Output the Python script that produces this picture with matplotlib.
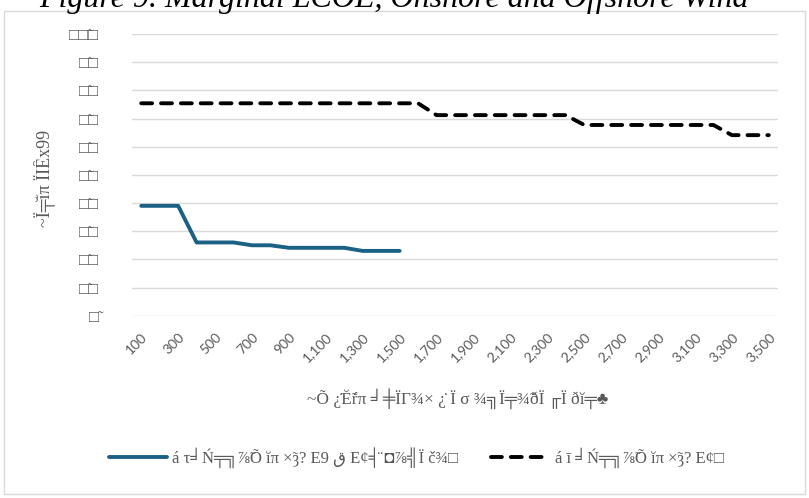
import matplotlib
matplotlib.use("Agg")
import matplotlib.pyplot as plt
from matplotlib.patches import Rectangle

# capacity steps (MW) on the category axis
capacity = list(range(100, 3600, 100))
tick_labels = [f"{c:,}" for c in capacity]

# marginal LCOE
onshore = [39, 39, 39, 26, 26, 26, 25, 25, 24.1, 24.1, 24.1, 24.1, 23, 23, 23]
offshore = [75.4] * 16 + [71.2] * 8 + [67.7] * 8 + [64.1] * 3

y_ticks = list(range(0, 101, 10))
# garbled labels as they show in the reference
y_tick_labels = ["\u25a1\u0303"] + ["\u25a1\u0303\u25a1"] * 9 + ["\u25a1\u25a1\u0303\u25a1"]

title = "Figure 9. Marginal LCOE, Onshore and Offshore Wind"
y_title = "~Ï╤̆ĭπ ÏIȆx99"
x_title = "~Õ ¿̇Ĕ̃ŕπ ╛╪ÏΓ¾× ¿̇ Ï σ ¾╗Ï╤¾̃ðÏ ╓Ï ðĭ╤♣"
leg_on = "á τ╛Ń╤╗⅞̃Õ ĭπ ×̃ȝ? E9 ق Eȼ╡̈ ◘⅞╣Ï č¾□"
leg_off = "á ī ╛Ń╤╗⅞̃Õ ĭπ ×̃ȝ? Eȼ□"

W, H = 809, 498
serif = ["Liberation Serif", "DejaVu Serif", "DejaVu Sans"]
grey = "#595959"

fig = plt.figure(figsize=(W / 100, H / 100), dpi=100)
ax = fig.add_axes([132 / W, 1 - 315.7 / H, (778 - 132) / W, (315.7 - 34) / H])

# outer chart border
fig.patches.append(Rectangle((4 / W, 1 - 494 / H), 801 / W, 483 / H,
                             transform=fig.transFigure, fill=False,
                             edgecolor="#d9d9d9", linewidth=1))

x_on = list(range(len(onshore)))
x_off = list(range(len(offshore)))
ax.plot(x_on, onshore, color="#1B6185", linewidth=2.8, solid_capstyle="round",
        label=leg_on)
ax.plot(x_off, offshore, color="black", linewidth=2.8, dashes=(2.8, 2.3),
        dash_capstyle="round", label=leg_off)

ax.set_xlim(-0.5, len(capacity) - 0.5)
ax.set_ylim(0, 100)
ax.set_yticks(y_ticks)
ax.set_yticklabels(y_tick_labels, family=serif, color=grey, fontsize=12)
ax.set_xticks(range(0, len(capacity), 2))
ax.set_xticklabels(tick_labels[::2], rotation=45, ha="right",
                   rotation_mode="anchor", color=grey, fontsize=10, family="Lato")
ax.tick_params(axis="both", length=0)
ax.tick_params(axis="y", pad=24)
ax.tick_params(axis="x", pad=11)
ax.grid(axis="y", color="#d9d9d9", linewidth=1)
ax.set_axisbelow(True)
for s in ax.spines.values():
    s.set_visible(False)

fig.text(394 / W, 1 - 7 / H, title, family=serif, style="italic", fontsize=23,
         ha="center", va="baseline", color="black")
fig.text(45 / W, 1 - 178 / H, y_title, family=serif, rotation=90, fontsize=13,
         color=grey, ha="center", va="center")
fig.text(458 / W, 1 - 399 / H, x_title, family=serif, fontsize=12.5,
         color=grey, ha="center", va="center")

leg = fig.legend(loc="center", bbox_to_anchor=(416 / W, 1 - 458 / H), ncol=2,
                 frameon=False, prop={"family": serif, "size": 12},
                 handlelength=3.5, handletextpad=0.3, columnspacing=2.0)
for t in leg.get_texts():
    t.set_color(grey)

fig.savefig("out.png", dpi=100)
